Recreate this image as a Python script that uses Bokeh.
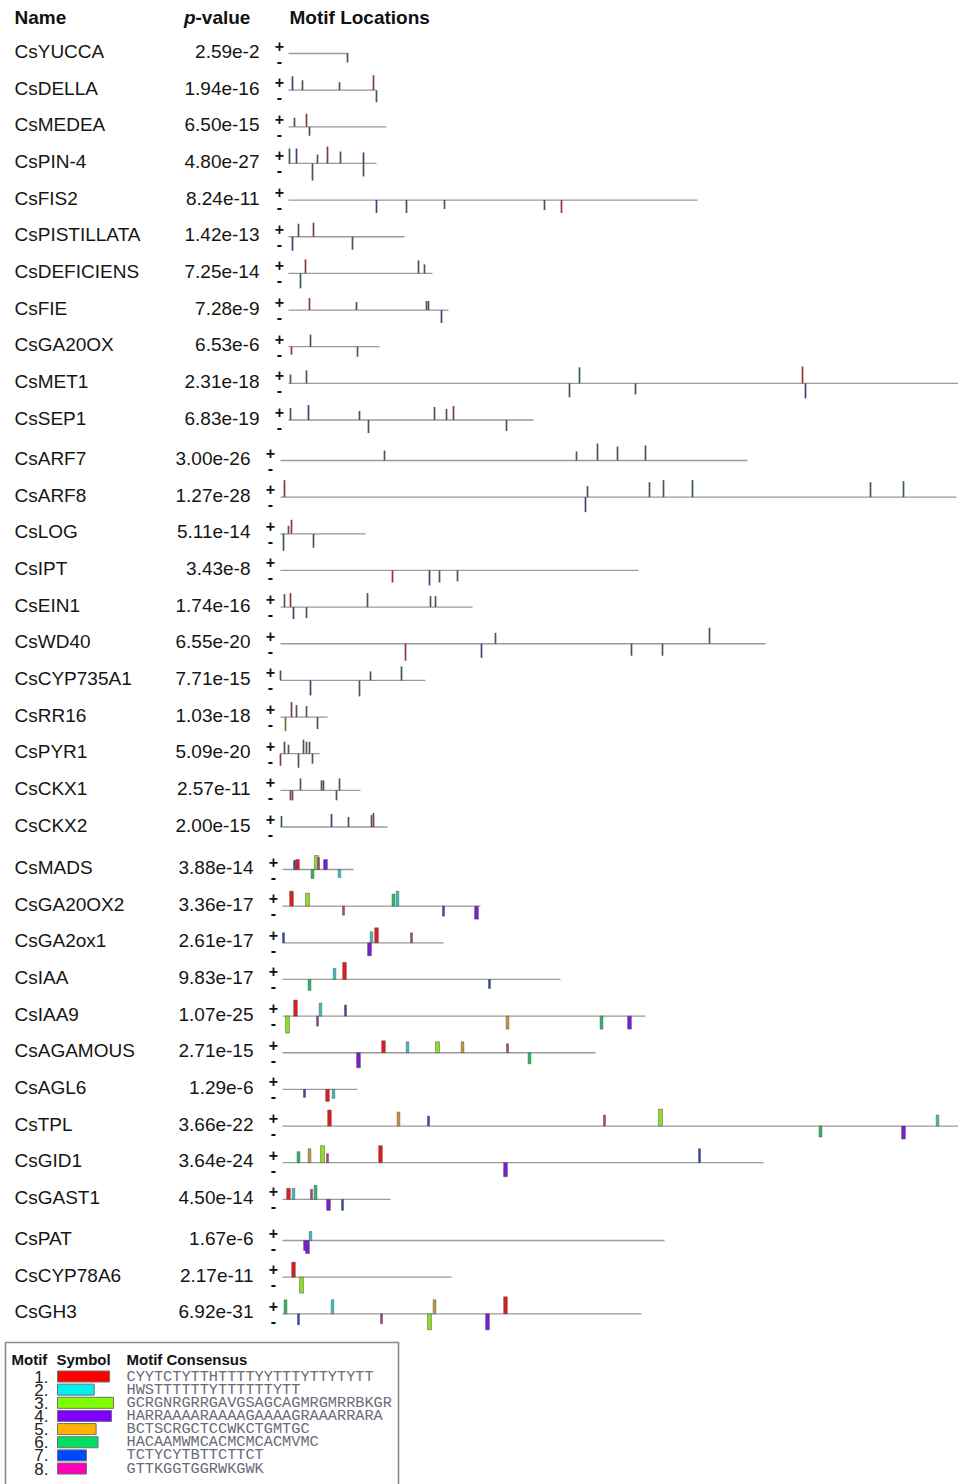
from bokeh.plotting import figure
from bokeh.models import Range1d
from bokeh.core.properties import value
from bokeh.embed import file_html
from bokeh.resources import INLINE

# ---------------- data ----------------
NAMES = ["CsYUCCA", "CsDELLA", "CsMEDEA", "CsPIN-4", "CsFIS2", "CsPISTILLATA",
         "CsDEFICIENS", "CsFIE", "CsGA20OX", "CsMET1", "CsSEP1",
         "CsARF7", "CsARF8", "CsLOG", "CsIPT", "CsEIN1", "CsWD40", "CsCYP735A1",
         "CsRR16", "CsPYR1", "CsCKX1", "CsCKX2",
         "CsMADS", "CsGA20OX2", "CsGA2ox1", "CsIAA", "CsIAA9", "CsAGAMOUS",
         "CsAGL6", "CsTPL", "CsGID1", "CsGAST1",
         "CsPAT", "CsCYP78A6", "CsGH3"]
PVALUES = ["2.59e-2", "1.94e-16", "6.50e-15", "4.80e-27", "8.24e-11", "1.42e-13",
           "7.25e-14", "7.28e-9", "6.53e-6", "2.31e-18", "6.83e-19",
           "3.00e-26", "1.27e-28", "5.11e-14", "3.43e-8", "1.74e-16", "6.55e-20",
           "7.71e-15", "1.03e-18", "5.09e-20", "2.57e-11", "2.00e-15",
           "3.88e-14", "3.36e-17", "2.61e-17", "9.83e-17", "1.07e-25", "2.71e-15",
           "1.29e-6", "3.66e-22", "3.64e-24", "4.50e-14",
           "1.67e-6", "2.17e-11", "6.92e-31"]
GROUPS = ["A"] * 11 + ["B"] * 11 + ["C"] * 10 + ["D"] * 3
LENGTHS = [60, 87, 98, 88, 409, 116, 144, 160, 91, 680, 245,
           467, 676, 85, 358, 192, 485, 145, 47, 39, 80, 107,
           71, 198, 161, 278, 363, 313, 75, 678, 481, 108,
           382, 169, 359]

# sites: (position, strand, score, motif)
SITES = [
    [(59, '-', 9, 'g')],
    [(4, '+', 14, 'p'), (14, '+', 10, 'k'), (51, '+', 8, 'k'), (85, '+', 15, 'r'), (88, '-', 12, 'g')],
    [(6, '+', 9, 'k'), (18, '+', 13, 'r'), (21, '-', 9, 'g')],
    [(1, '+', 15, 'g'), (8, '+', 15, 'p'), (24, '-', 17, 'g'), (29, '+', 9, 'k'), (39, '+', 17, 'r'),
     (52, '+', 12, 'g'), (75, '+', 11, 'p'), (75, '-', 13, 'g')],
    [(88, '-', 13, 'p'), (118, '-', 13, 'g'), (156, '-', 9, 'k'), (256, '-', 10, 'k'), (273, '-', 13, 'r')],
    [(4, '-', 14, 'p'), (10, '+', 13, 'k'), (25, '+', 14, 'r'), (64, '-', 13, 'g')],
    [(12, '-', 15, 'g'), (17, '+', 14, 'r'), (130, '+', 13, 'g'), (136, '+', 9, 'k')],
    [(21, '+', 12, 'r'), (68, '+', 8, 'g'), (138, '+', 9, 'k'), (140, '+', 9, 'k'), (153, '-', 13, 'p')],
    [(3, '-', 8, 'r'), (22, '+', 12, 'g'), (69, '-', 10, 'k')],
    [(2, '+', 9, 'k'), (18, '+', 13, 'k'), (281, '-', 14, 'g'), (291, '+', 16, 'g'), (347, '-', 11, 'k'),
     (514, '+', 17, 'r'), (517, '-', 15, 'p')],
    [(2, '+', 12, 'g'), (20, '+', 15, 'p'), (71, '+', 9, 'g'), (80, '-', 13, 'g'), (146, '+', 13, 'k'),
     (158, '+', 11, 'k'), (165, '+', 14, 'r'), (218, '-', 11, 'k')],
    [(104, '+', 10, 'k'), (296, '+', 9, 'k'), (317, '+', 17, 'k'), (337, '+', 14, 'k'), (365, '+', 15, 'g')],
    [(4, '+', 17, 'r'), (307, '+', 11, 'k'), (305, '-', 15, 'p'), (369, '+', 15, 'k'), (383, '+', 17, 'k'),
     (412, '+', 17, 'g'), (590, '+', 15, 'k'), (623, '+', 16, 'g')],
    [(3, '-', 17, 'g'), (8, '+', 8, 'k'), (11, '+', 14, 'r'), (33, '-', 14, 'g')],
    [(112, '-', 12, 'r'), (149, '-', 15, 'p'), (159, '-', 12, 'k'), (177, '-', 11, 'g')],
    [(4, '+', 13, 'k'), (10, '+', 14, 'r'), (13, '-', 12, 'p'), (26, '-', 11, 'k'), (87, '+', 14, 'g'),
     (150, '+', 11, 'k'), (155, '+', 11, 'k')],
    [(125, '-', 17, 'r'), (201, '-', 14, 'p'), (215, '+', 11, 'k'), (351, '-', 12, 'g'), (382, '-', 12, 'k'),
     (429, '+', 16, 'g')],
    [(0, '+', 10, 'k'), (30, '-', 15, 'p'), (79, '-', 16, 'k'), (90, '+', 9, 'k'), (121, '+', 14, 'g')],
    [(5, '-', 14, 'y'), (11, '+', 15, 'r'), (16, '+', 12, 'k'), (26, '+', 11, 'k'), (37, '-', 12, 'k')],
    [(0, '-', 12, 'r'), (4, '+', 12, 'g'), (8, '+', 9, 'k'), (18, '-', 14, 'k'), (23, '+', 14, 'k'),
     (26, '+', 12, 'k'), (29, '+', 12, 'k'), (32, '-', 10, 'k')],
    [(10, '-', 10, 'r'), (12, '-', 10, 'k'), (20, '+', 12, 'k'), (41, '+', 10, 'k'), (43, '+', 10, 'k'),
     (59, '+', 12, 'k'), (56, '-', 10, 'k')],
    [(1, '+', 11, 'g'), (51, '+', 13, 'p'), (68, '+', 10, 'k'), (91, '+', 12, 'k'), (93, '+', 14, 'r')],
    # MEME motifs 1-8
    [(12, '+', 9, 7), (15, '+', 10, 1), (30, '-', 9, 6), (34, '+', 14, 3), (36, '+', 12, 8),
     (43, '+', 10, 4), (57, '-', 8, 2)],
    [(9, '+', 15, 1), (25, '+', 13, 3), (61, '-', 9, 8), (111, '+', 12, 6), (115, '+', 15, 2),
     (161, '-', 10, 7), (194, '-', 13, 4)],
    [(1, '+', 10, 7), (87, '-', 13, 4), (89, '+', 11, 2), (94, '+', 15, 1), (129, '+', 10, 8)],
    [(27, '-', 11, 6), (52, '+', 11, 2), (62, '+', 17, 1), (207, '-', 9, 7)],
    [(5, '-', 17, 3), (13, '+', 16, 1), (35, '-', 10, 8), (38, '+', 13, 2), (63, '+', 11, 7),
     (225, '-', 13, 5), (319, '-', 13, 6), (347, '-', 13, 4)],
    [(76, '-', 15, 4), (101, '+', 12, 1), (125, '+', 11, 2), (155, '+', 11, 3), (180, '+', 11, 5),
     (225, '+', 9, 8), (247, '-', 11, 6)],
    [(22, '-', 8, 7), (45, '-', 12, 1), (51, '-', 9, 2)],
    [(47, '+', 16, 1), (116, '+', 14, 5), (146, '+', 10, 7), (322, '+', 11, 8), (378, '+', 17, 3),
     (538, '-', 11, 6), (621, '-', 13, 4), (655, '+', 11, 2)],
    [(16, '+', 11, 6), (27, '+', 14, 5), (40, '+', 17, 3), (45, '+', 9, 8), (98, '+', 17, 1),
     (223, '-', 14, 4), (417, '+', 14, 7)],
    [(6, '+', 11, 1), (11, '+', 11, 2), (29, '+', 10, 8), (33, '+', 14, 6), (46, '-', 11, 4),
     (60, '-', 11, 7)],
    [(23, '-', 10, 4), (25, '-', 13, 4), (28, '+', 9, 2)],
    [(11, '+', 15, 1), (19, '-', 16, 3)],
    [(3, '+', 14, 6), (16, '-', 11, 7), (50, '+', 14, 2), (99, '-', 10, 8), (152, '+', 14, 5),
     (147, '-', 16, 3), (205, '-', 16, 4), (223, '+', 17, 1)],
]

MOTIF_IDS = [1, 2, 3, 4, 5, 6, 7, 8]
CONSENSUS = ["CYYTCTYTTHTTTTYYTTTYTTYTYTT",
             "HWSTTTTTTYTTTTTTYTT",
             "GCRGNRGRRGAVGSAGCAGMRGMRRBKGR",
             "HARRAAAARAAAAGAAAAGRAAARRARA",
             "BCTSCRGCTCCWKCTGMTGC",
             "HACAAMWMCACMCMCACMVMC",
             "TCTYCYTBTTCTTCT",
             "GTTKGGTGGRWKGWK"]

# ---------------- styles / layout ----------------
LEGEND_COLORS = {1: "#ff0000", 2: "#00f0f0", 3: "#80ff00", 4: "#8000ff",
                 5: "#ffb400", 6: "#00e060", 7: "#0048ff", 8: "#ff00b8"}
BAR_COLORS = {1: "#e41a1c", 2: "#2cc4c4", 3: "#8ee024", 4: "#7a1cd8",
              5: "#c8962e", 6: "#22c060", 7: "#2a4ac0", 8: "#b03c90"}
TICK_COLORS = {'k': "#4e5651", 'g': "#3e5e40", 'r': "#8a3a3a", 'p': "#4a3c7a", 'y': "#667a2c"}

GROUP_TOP = {"A": 51.0, "B": 458.0, "C": 867.0, "D": 1238.0}
ROW_STEP = 36.65
LINE_X0 = {"A": 288, "B": 280, "C": 282, "D": 282}
PM_X = {"A": 279, "B": 270, "C": 273, "D": 273}
PV_RIGHT = {"A": 259, "B": 250, "C": 253, "D": 253}
BAR_W_PER_CHAR = 0.135
LEG_W_PER_CHAR = 1.93

FONT = value("Liberation Sans")
MONO = value("Liberation Mono")

W, H = 958, 1484
p = figure(width=W, height=H, x_range=Range1d(0, W), y_range=Range1d(H, 0),
           output_backend="svg", toolbar_location=None, min_border=0,
           x_axis_location=None, y_axis_location=None)
p.grid.visible = False
p.outline_line_color = None
p.background_fill_color = "white"

# row positions
counters = {}
text_y, line_y = [], []
for g in GROUPS:
    j = counters.get(g, 0)
    counters[g] = j + 1
    ty = GROUP_TOP[g] + j * ROW_STEP
    text_y.append(ty)
    line_y.append(ty + 2)

# header
p.text(x=[14], y=[17], text=["Name"], text_font=FONT, text_font_size="19px",
       text_font_style="bold", text_baseline="middle", text_color="#111111")
p.text(x=[195], y=[17], text=["p"], text_font=FONT, text_font_size="19px",
       text_font_style="bold italic", text_baseline="middle", text_align="right", text_color="#111111")
p.text(x=[195], y=[17], text=["-value"], text_font=FONT, text_font_size="19px",
       text_font_style="bold", text_baseline="middle", text_color="#111111")
p.text(x=[289], y=[17], text=["Motif Locations"], text_font=FONT, text_font_size="19px",
       text_font_style="bold", text_baseline="middle", text_color="#111111")

# names and p-values
p.text(x=[14] * len(NAMES), y=text_y, text=NAMES, text_font=FONT, text_font_size="19px",
       text_baseline="middle", text_color="#151515")
p.text(x=[PV_RIGHT[g] for g in GROUPS], y=text_y, text=PVALUES, text_font=FONT,
       text_font_size="19px", text_baseline="middle", text_align="right", text_color="#151515")

# strand marks
p.text(x=[PM_X[g] for g in GROUPS], y=[y - 8 for y in line_y], text=["+"] * len(GROUPS),
       text_font=FONT, text_font_size="16px", text_font_style="bold", text_baseline="middle",
       text_align="center", text_color="#111111")
p.text(x=[PM_X[g] for g in GROUPS], y=[y + 7 for y in line_y], text=["-"] * len(GROUPS),
       text_font=FONT, text_font_size="16px", text_font_style="bold", text_baseline="middle",
       text_align="center", text_color="#111111")

# baselines
p.segment(x0=[LINE_X0[g] for g in GROUPS], x1=[LINE_X0[g] + L for g, L in zip(GROUPS, LENGTHS)],
          y0=line_y, y1=line_y, line_color="#9a9a9a", line_width=1.3)

# sites
tx, ty0, ty1, tc = [], [], [], []
ql, qr, qt, qb, qc = [], [], [], [], []
for g, ly, sites in zip(GROUPS, line_y, SITES):
    x0 = LINE_X0[g]
    for pos, strand, score, motif in sites:
        x = x0 + pos
        y_end = ly - score if strand == '+' else ly + score
        if isinstance(motif, str):
            tx.append(x); ty0.append(ly); ty1.append(y_end); tc.append(TICK_COLORS[motif])
        else:
            w = len(CONSENSUS[motif - 1]) * BAR_W_PER_CHAR
            ql.append(x - w / 2); qr.append(x + w / 2)
            qt.append(min(ly, y_end)); qb.append(max(ly, y_end)); qc.append(BAR_COLORS[motif])

p.segment(x0=tx, x1=tx, y0=ty0, y1=ty1, line_color=tc, line_width=1.7)
p.quad(left=ql, right=qr, top=qt, bottom=qb, fill_color=qc, line_color="#505050",
       line_width=0.7, line_alpha=0.7)

# legend
p.quad(left=[5], right=[398], top=[1342], bottom=[1500], fill_color="white",
       line_color="#8a8a8a", line_width=1.6)
p.text(x=[11, 56, 126], y=[1359] * 3, text=["Motif", "Symbol", "Motif Consensus"],
       text_font=FONT, text_font_size="15px", text_font_style="bold", text_baseline="middle",
       text_color="#111111")
leg_y = [1376 + k * 13.15 for k in range(len(MOTIF_IDS))]
p.text(x=[48] * len(MOTIF_IDS), y=leg_y, text=[f"{m}." for m in MOTIF_IDS], text_font=FONT,
       text_font_size="17px", text_baseline="middle", text_align="right", text_color="#222222")
p.quad(left=[57] * len(MOTIF_IDS), right=[57 + len(c) * LEG_W_PER_CHAR for c in CONSENSUS],
       top=[y - 5.5 for y in leg_y], bottom=[y + 5.5 for y in leg_y],
       fill_color=[LEGEND_COLORS[m] for m in MOTIF_IDS], line_color="#707070", line_width=1)
p.text(x=[126] * len(MOTIF_IDS), y=leg_y, text=CONSENSUS, text_font=MONO, text_font_size="15.25px",
       text_baseline="middle", text_color="#6a6a78")

open("out.html", "w").write(file_html(p, INLINE))
